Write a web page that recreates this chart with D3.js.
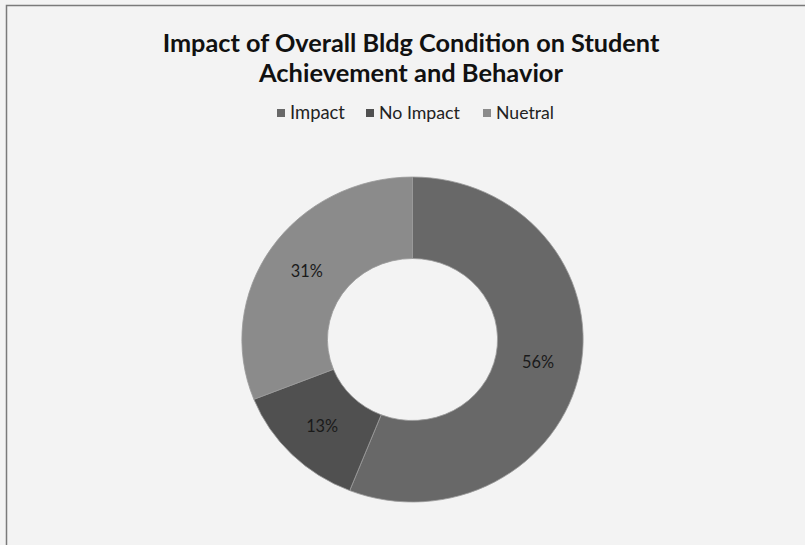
<!DOCTYPE html>
<html><head><meta charset="utf-8">
<script src="https://cdn.jsdelivr.net/npm/d3@7"></script>
<style>html,body{margin:0;padding:0;background:#f3f3f3;}svg{display:block;}</style>
</head><body>
<svg id="chart" width="805" height="545"></svg>
<script>
const categories = ["Impact", "No Impact", "Nuetral"];
const values = [56, 13, 31];
const labels = ["56%", "13%", "31%"];
const colors = ["#686868", "#505050", "#8b8b8b"];
const titleLines = ["Impact of Overall Bldg Condition on Student", "Achievement and Behavior"];

const svg = d3.select("#chart");
svg.append("rect").attr("width", 805).attr("height", 545).attr("fill", "#f3f3f3");
// chart frame (left & top border visible)
svg.append("path").attr("d", "M6.5,545 L6.5,5.5 L805,5.5").attr("fill", "none").attr("stroke", "#7a7a7a").attr("stroke-width", 1.5);

const font = "Lato, 'Open Sans', sans-serif";
function fit(sel, size, target) {
  sel.attr("font-size", size);
  const w = sel.node().getComputedTextLength();
  sel.attr("font-size", size * target / w);
}
const tl = svg.append("g");
tl.selectAll("text").data(titleLines).join("text")
  .attr("x", 411).attr("y", (d, i) => 52 + i * 30)
  .attr("text-anchor", "middle").attr("font-family", font).attr("font-weight", "bold")
  .attr("fill", "#111").text(d => d)
  .each(function(d, i) { fit(d3.select(this), 20, i === 0 ? 497 : 304); });

// legend
const legendX = [277, 366, 483];
const legendW = [55, 81, 58];
const lg = svg.append("g");
categories.forEach((c, i) => {
  lg.append("rect").attr("x", legendX[i]).attr("y", 109).attr("width", 8).attr("height", 8).attr("fill", colors[i]);
  const t = lg.append("text").attr("x", legendX[i] + 13).attr("y", 119).attr("font-family", font)
    .attr("fill", "#222").text(c);
  fit(t, 15, legendW[i]);
});

// donut
const cx = 412.5, cy = 339.5, sx = 1.05;
const outerR = 162.5, innerR = 81;
const pie = d3.pie().sort(null).value(d => d)(values);
const arc = d3.arc().innerRadius(innerR).outerRadius(outerR);
const g = svg.append("g").attr("transform", `translate(${cx},${cy}) scale(${sx},1)`);
g.selectAll("path").data(pie).join("path")
  .attr("d", arc).attr("fill", (d, i) => colors[i])
  .attr("stroke", "#9a9a9a").attr("stroke-width", 0.8);

const lab = svg.append("g").attr("transform", `translate(${cx},${cy})`);
lab.selectAll("text").data(pie).join("text")
  .attr("x", d => arc.centroid(d)[0] * sx)
  .attr("y", d => arc.centroid(d)[1] + 6)
  .attr("text-anchor", "middle").attr("font-family", font)
  .attr("fill", "#1a1a1a").text((d, i) => labels[i])
  .each(function() { fit(d3.select(this), 15, 32); });
</script>
</body></html>
